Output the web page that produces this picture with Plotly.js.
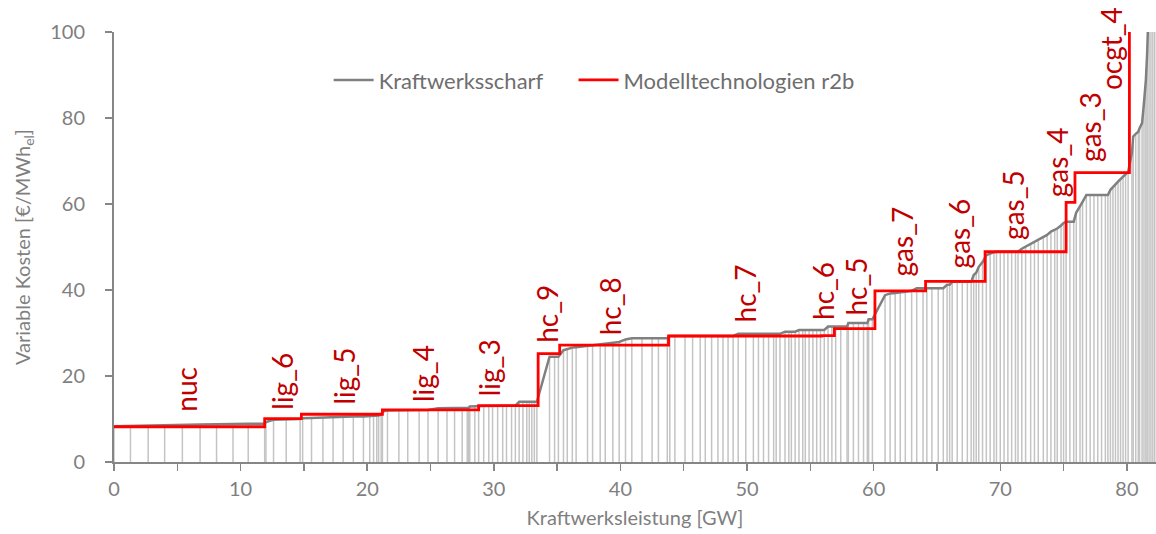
<!DOCTYPE html>
<html>
<head>
<meta charset="utf-8">
<script src="https://cdn.plot.ly/plotly-3.0.1.min.js"></script>
<style>html,body{margin:0;padding:0;background:#fff;}#chart{width:1156px;height:534px;}</style>
</head>
<body>
<div id="chart"></div>
<script>
// Individual plants: cumulative capacity [GW] and variable cost [€/MWh_el]
const plantCapGW = [
  0.0, 1.3, 2.7, 4.0, 5.4, 6.8, 8.1, 9.4, 10.6, 11.9,
  12.0, 12.6, 13.6, 14.7,
  14.9, 15.6, 16.5, 17.3, 18.1, 18.9, 19.7, 20.2, 20.5, 20.75, 20.9, 21.1,
  21.2, 21.6, 22.5, 23.2, 24.1, 24.8, 25.6, 26.3, 26.9, 27.5, 27.9, 28.0,
  28.1, 28.5, 28.8, 29.2, 29.6, 29.9, 30.3, 30.7, 31.0, 31.4, 31.7, 32.0, 32.3, 32.6, 32.8, 33.0, 33.2, 33.4,
  34.4, 34.8, 35.1,
  35.5, 35.8, 36.2, 36.5, 37.4, 37.8, 38.4, 38.8, 39.4, 39.9, 40.4, 40.9, 41.7, 42.5, 43.0, 43.7,
  43.9, 44.3, 45.1, 45.7, 46.3, 46.7, 47.2, 47.7, 48.1, 48.5, 48.9, 49.3, 49.9, 50.5, 50.9, 51.3, 51.7, 52.1, 52.3, 52.6,
  53.0, 53.3, 53.5, 53.8, 54.1, 54.4, 54.6, 54.9, 55.2, 55.5, 55.8, 56.1, 56.4, 56.7, 57.0, 57.4, 57.9,
  58.0, 58.4, 58.8, 59.2, 59.5, 59.6, 59.9,
  60.9, 61.3, 61.7, 62.1, 62.5, 63.0, 63.4, 63.9, 64.2, 64.6, 65.1, 65.5, 65.8, 66.0, 66.2, 66.6, 67.0, 67.4, 67.7,
  67.9, 68.1, 68.3, 68.6, 68.9, 69.2, 69.5, 69.7, 70.0, 70.3, 70.6, 70.9, 71.2, 71.4, 71.7, 72.0, 72.4, 72.7, 73.0, 73.4,
  73.7, 74.0, 74.3, 74.5, 74.8, 75.0, 75.2, 75.5, 75.8, 76.0, 76.3, 76.5, 76.8, 77.1, 77.4, 77.7, 78.0, 78.3, 78.5,
  78.7, 78.9, 79.1, 79.3, 79.5, 79.7, 79.9, 80.1, 80.4, 80.5, 80.7, 80.9, 81.0, 81.2, 81.35, 81.5, 81.6, 81.75,
  81.9, 82.05, 82.2
];
const plantCost = [
  8.3, 8.35, 8.45, 8.5, 8.6, 8.7, 8.8, 8.9, 8.9, 8.9,
  9.3, 9.8, 9.9, 10.0,
  10.2, 10.3, 10.4, 10.5, 10.5, 10.6, 10.6, 10.7, 10.7, 10.8, 10.8, 11.0,
  11.7, 12.0, 12.0, 12.0, 12.0, 12.1, 12.5, 12.5, 12.5, 12.5, 12.5, 12.6,
  12.9, 13.0, 13.0, 13.0, 13.0, 13.0, 13.0, 13.0, 13.1, 13.1, 13.1, 14.0, 14.0, 14.0, 14.0, 14.0, 14.0, 14.0,
  24.5, 24.5, 24.5,
  26.0, 26.3, 26.6, 26.7, 27.0, 27.1, 27.4, 27.5, 27.7, 27.9, 28.5, 28.8, 28.8, 28.8, 28.8, 28.8,
  29.3, 29.3, 29.3, 29.3, 29.3, 29.3, 29.3, 29.3, 29.3, 29.3, 29.3, 29.8, 29.8, 29.8, 29.8, 29.8, 29.8, 29.8, 29.8, 29.8,
  30.3, 30.3, 30.3, 30.3, 30.7, 30.7, 30.7, 30.7, 30.7, 30.7, 30.7, 30.7, 31.5, 31.5, 31.5, 31.5, 31.5,
  32.3, 32.3, 32.3, 32.3, 32.3, 33.2, 33.2,
  38.8, 39.2, 39.3, 39.4, 39.6, 39.8, 40.4, 40.4, 40.4, 40.4, 40.4, 40.4, 41.2, 41.2, 41.9, 41.9, 41.9, 41.9, 41.9,
  43.5, 44.0, 45.4, 46.5, 48.1, 48.5, 48.8, 48.9, 48.9, 48.9, 48.9, 48.9, 48.9, 48.9, 49.6, 50.1, 50.8, 51.2, 51.8, 52.5,
  52.8, 53.6, 54.0, 54.3, 55.0, 55.6, 55.9, 55.9, 55.9, 58.0, 59.4, 60.5, 62.1, 62.1, 62.1, 62.1, 62.1, 62.1, 62.1,
  63.3, 64.0, 64.6, 65.2, 65.8, 66.3, 67.0, 67.5, 71.9, 75.7, 76.3, 76.8, 77.6, 78.8, 83.5, 88.8, 95.0, 104,
  115, 130, 150
];

// Model technologies (r2b): name, end of block [GW], variable cost [€/MWh_el]
const techNames = ['nuc','lig_6','lig_5','lig_4','lig_3','hc_9','hc_8','hc_7','hc_6','hc_5','gas_7','gas_6','gas_5','gas_4','gas_3','ocgt_4'];
const techEndGW = [11.9, 14.8, 21.2, 28.8, 33.5, 35.2, 43.8, 55.9, 56.9, 60.1, 64.1, 68.8, 75.2, 75.9, 80.2, 82.3];
const techCost  = [8.2, 10.1, 11.1, 12.1, 13.1, 25.2, 27.2, 29.3, 29.4, 31.0, 39.8, 42.0, 48.9, 60.4, 67.3, 120];

// Build the red step line from block starts
const stepX = [0].concat(techEndGW);
const stepY = techCost.concat([techCost[techCost.length - 1]]);

// Label anchor points (GW, €/MWh) for the rotated technology names
const labelGW   = [5.7, 13.3, 18.2, 24.4, 29.6, 34.2, 39.2, 49.8, 56.0, 58.6, 62.2, 66.7, 71.0, 74.5, 77.1, 78.8];
const labelCost = [11.4, 11.9, 13.1, 13.8, 15.1, 27.5, 29.3, 32.1, 32.8, 33.8, 42.8, 44.9, 51.4, 61.4, 69.6, 86.3];

const FONT = 'Lato, "Open Sans", sans-serif';
const GREY_TXT = '#7f7f7f';

const traces = [
  {
    x: plantCapGW, y: plantCost, type: 'scatter', mode: 'markers',
    marker: {size: 1, color: 'rgba(0,0,0,0)'},
    error_y: {type: 'data', symmetric: false, array: plantCost.map(() => 0), arrayminus: plantCost,
              width: 0, thickness: 1.5, color: '#c4c4c4'},
    showlegend: false, hoverinfo: 'skip'
  },
  {
    x: plantCapGW, y: plantCost, type: 'scatter', mode: 'lines', legend: 'legend',
    name: 'Kraftwerksscharf', line: {color: '#808080', width: 2.5}
  },
  {
    x: stepX, y: stepY, type: 'scatter', mode: 'lines', legend: 'legend2',
    name: 'Modelltechnologien r2b', line: {color: '#ff0000', width: 2.8, shape: 'hv'}
  }
];

const annotations = techNames.map((t, i) => ({
  x: labelGW[i], y: labelCost[i], xref: 'x', yref: 'y',
  text: t, textangle: -90, showarrow: false,
  xanchor: 'center', yanchor: 'bottom', borderpad: 0,
  font: {family: FONT, size: 28, color: '#c00000'}
}));

const legendStyle = (x) => ({
  orientation: 'h', x: x, y: 0.888, xanchor: 'left', yanchor: 'middle',
  font: {family: FONT, size: 22, color: '#6e6e6e'}, bgcolor: 'rgba(0,0,0,0)', itemwidth: 40
});

const layout = {
  width: 1156, height: 534,
  margin: {l: 114, r: 0, t: 32, b: 72, pad: 0},
  paper_bgcolor: '#ffffff', plot_bgcolor: '#ffffff',
  font: {family: FONT, color: GREY_TXT, size: 20},
  showlegend: true,
  legend: legendStyle(0.206),
  legend2: legendStyle(0.441),
  hovermode: false,
  xaxis: {
    range: [0, 82.3], dtick: 10, tick0: 0, ticks: 'outside', ticklen: 7, tickwidth: 1.5, tickcolor: '#868686',
    minor: {dtick: 5, ticks: 'outside', ticklen: 7, tickwidth: 1.5, tickcolor: '#868686', showgrid: false},
    showline: true, linecolor: '#868686', linewidth: 2, showgrid: false, zeroline: false,
    tickfont: {family: FONT, size: 20, color: GREY_TXT}, ticklabelstandoff: 1,
    title: {text: 'Kraftwerksleistung [GW]', font: {family: FONT, size: 20, color: GREY_TXT}, standoff: 12}
  },
  yaxis: {
    range: [0, 100], dtick: 20, ticks: 'outside', ticklen: 7, tickwidth: 1.5, tickcolor: '#868686',
    showline: true, linecolor: '#868686', linewidth: 2, showgrid: false, zeroline: false,
    tickfont: {family: FONT, size: 20, color: GREY_TXT}, ticklabelstandoff: 16,
    title: {text: 'Variable Kosten [€/MWh<sub>el</sub>]', font: {family: FONT, size: 20, color: GREY_TXT}, standoff: 14}
  },
  yaxis2: {
    overlaying: 'y', side: 'left', range: [0, 100], dtick: 20, ticks: 'inside', ticklen: 7, tickwidth: 1.5,
    tickcolor: '#868686', showticklabels: false, showline: false, showgrid: false, zeroline: false
  },
  annotations: annotations
};

Plotly.newPlot('chart', traces, layout, {displayModeBar: false, staticPlot: true});
</script>
</body>
</html>
